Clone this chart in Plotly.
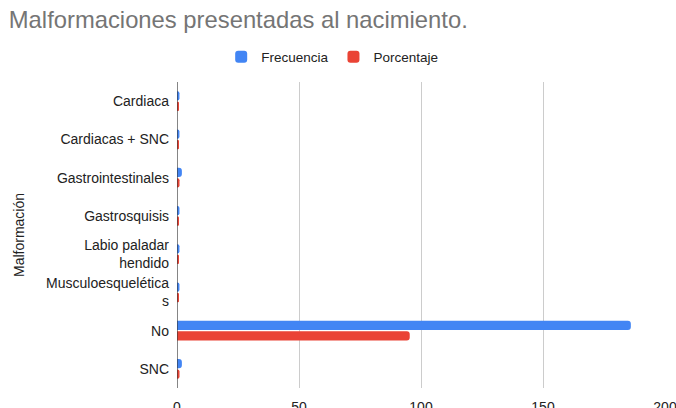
import plotly.graph_objects as go

categories = ["Cardiaca", "Cardiacas + SNC", "Gastrointestinales", "Gastrosquisis",
              "Labio paladar<br>hendido", "Musculoesquelética<br>s", "No", "SNC"]
frecuencia = [1, 1, 2, 1, 1, 1, 186, 2]
porcentaje = [0.51, 0.51, 1.03, 0.51, 0.51, 0.51, 95.38, 1.03]
x_ticks = [0, 50, 100, 150, 200]

fig = go.Figure()
fig.add_trace(go.Bar(y=categories, x=frecuencia, orientation="h", name="Frecuencia",
                     marker=dict(color="#4285F4", line=dict(width=0))))
fig.add_trace(go.Bar(y=categories, x=porcentaje, orientation="h", name="Porcentaje",
                     marker=dict(color="#EA4335", line=dict(width=0))))

fig.update_layout(
    width=676, height=408,
    margin=dict(l=177, r=11, t=82, b=20, autoexpand=False),
    paper_bgcolor="white", plot_bgcolor="white",
    font=dict(family="Liberation Sans, Arial, sans-serif", size=14, color="#222222"),
    title=dict(text="Malformaciones presentadas al nacimiento.", x=0.013, xanchor="left",
               y=0.951, yanchor="middle",
               font=dict(size=23.8, color="#757575")),
    barmode="group", bargap=0.45, bargroupgap=0.14,
    barcornerradius=3,
    showlegend=True,
    legend=dict(orientation="h", x=0.318, xanchor="center", y=1.082, yanchor="middle",
                font=dict(size=13.5, color="#222222"), itemwidth=30),
    xaxis=dict(range=[0, 200], tickvals=x_ticks, showgrid=True, gridcolor="#cccccc",
               zeroline=False, showline=False, ticks="", automargin=False,
               ticklabeloverflow="allow", ticklabelstandoff=9,
               tickfont=dict(size=14, color="#222222")),
    yaxis=dict(autorange="reversed", showgrid=False, ticks="", showline=False,
               automargin=False, ticklabelstandoff=7,
               tickfont=dict(size=14, color="#222222")),
)
fig.add_shape(type="line", xref="x", yref="paper", x0=0, x1=0, y0=0, y1=1.0,
              line=dict(color="#333333", width=1.2))
fig.add_annotation(text="Malformación", xref="paper", yref="paper",
                   x=-(177 - 19) / 488, y=0.5, xanchor="center", yanchor="middle",
                   textangle=-90, showarrow=False, font=dict(size=14, color="#222222"))
fig.write_html("out.html", config={"displayModeBar": False},
               post_script="document.body.style.margin='0';document.body.style.padding='0';")
